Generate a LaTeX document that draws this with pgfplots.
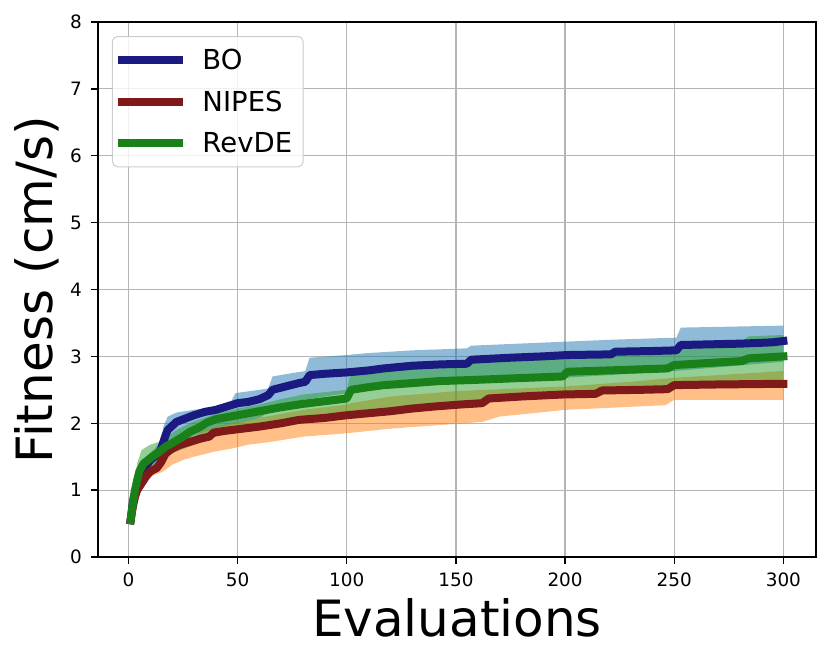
\documentclass[border=0pt]{standalone}
\usepackage{pgfplots}
\pgfplotsset{compat=1.18}
\usepackage{pgfplotstable}
\usepackage{fontspec}
\setmainfont{DejaVu Sans}
\definecolor{c0}{HTML}{1F77B4}
\definecolor{c1}{HTML}{FF7F0E}
\definecolor{c2}{HTML}{2CA02C}
\definecolor{lBO}{RGB}{26,26,128}
\definecolor{lNI}{RGB}{128,26,26}
\definecolor{lRE}{RGB}{26,128,26}
\definecolor{gridc}{RGB}{180,180,180}
\definecolor{legc}{RGB}{204,204,204}

\pgfplotstableread{
x y
1 0.55
2 0.82
3 0.97
4 1.07
5 1.17
6 1.25
8 1.36
10 1.45
12 1.50
14 1.56
15 1.62
16 1.72
17 1.82
18 1.90
20 1.96
22 2.02
26 2.07
30 2.12
35 2.17
40 2.20
45 2.25
50 2.30
55 2.32
60 2.36
64 2.42
66 2.50
72 2.55
78 2.60
81 2.62
83 2.72
90 2.74
100 2.76
110 2.79
117 2.82
130 2.86
143 2.88
155 2.89
157 2.95
175 2.98
190 3.00
201 3.02
221 3.03
223 3.07
240 3.08
251 3.09
253 3.17
280 3.19
295 3.21
300 3.23
}\BOmean

% BO band: upper edge forward, lower edge backward
\pgfplotstableread{
x y
1 0.60
3 1.05
5 1.35
8 1.50
12 1.62
15 1.75
16 1.95
18 2.10
22 2.16
30 2.20
40 2.25
47 2.32
49 2.45
60 2.50
64 2.52
66 2.70
75 2.75
81 2.78
83 2.98
100 3.02
110 3.05
130 3.09
155 3.12
157 3.16
200 3.22
222 3.25
251 3.28
253 3.43
300 3.46
300 2.92
250 2.78
200 2.68
160 2.62
130 2.57
102 2.50
100 2.45
80 2.35
66 2.20
60 2.08
50 2.00
40 1.93
30 1.82
20 1.62
15 1.45
10 1.30
5 1.10
3 0.90
1 0.50
}\BOband

\pgfplotstableread{
x y
1 0.55
2 0.75
3 0.90
4 1.00
6 1.10
8 1.20
10 1.28
13 1.33
15 1.42
17 1.55
20 1.62
23 1.67
28 1.72
33 1.77
37 1.80
39 1.86
45 1.89
50 1.91
60 1.95
70 2.00
78 2.05
90 2.08
100 2.12
110 2.15
120 2.18
130 2.22
140 2.25
152 2.28
162 2.30
165 2.37
180 2.40
199 2.43
214 2.44
217 2.49
235 2.50
247 2.51
250 2.57
270 2.58
300 2.59
}\NImean

\pgfplotstableread{
x y
1 0.60
3 1.05
5 1.20
8 1.32
12 1.40
16 1.55
20 1.62
25 1.70
30 1.80
35 1.90
40 1.95
50 2.02
60 2.08
70 2.14
80 2.20
100 2.28
102 2.30
120 2.40
150 2.48
200 2.55
230 2.62
250 2.68
300 2.78
300 2.35
250 2.35
246 2.27
200 2.20
170 2.10
162 2.02
150 1.99
120 1.92
100 1.85
80 1.80
65 1.72
55 1.68
47 1.62
40 1.58
30 1.50
25 1.45
20 1.38
16 1.28
10 1.20
6 1.08
3 0.90
1 0.50
}\NIband

\pgfplotstableread{
x y
1 0.55
2 0.80
3 1.00
4 1.15
5 1.28
7 1.40
9 1.45
11 1.50
14 1.57
17 1.65
21 1.72
25 1.80
28 1.87
32 1.93
36 2.01
40 2.06
50 2.12
60 2.18
70 2.24
80 2.29
90 2.33
100 2.37
102 2.50
110 2.54
117 2.57
130 2.60
142 2.63
160 2.65
175 2.67
199 2.70
201 2.77
220 2.79
247 2.82
250 2.87
265 2.90
281 2.93
284 2.97
300 3.00
}\REmean

\pgfplotstableread{
x y
1 0.60
2 1.00
4 1.40
6 1.60
10 1.68
14 1.72
18 1.80
22 1.90
30 2.03
40 2.14
50 2.22
60 2.28
70 2.36
80 2.43
100 2.50
102 2.78
117 2.82
143 2.88
157 2.95
201 3.02
222 3.06
251 3.09
253 3.15
280 3.20
284 3.30
300 3.32
300 2.56
250 2.52
200 2.40
165 2.33
160 2.25
130 2.18
100 2.08
70 1.97
50 1.88
40 1.80
30 1.68
20 1.55
16 1.40
12 1.25
8 1.15
5 1.00
3 0.85
1 0.50
}\REband

\begin{document}
\begin{tikzpicture}
\begin{axis}[
  at={(0,0)}, anchor=south west,
  scale only axis, width=718bp, height=535bp,
  xmin=-13.95, xmax=314.95, ymin=0, ymax=8,
  xtick={0,50,...,300}, ytick={0,1,...,8},
  grid=major,
  major grid style={gridc, line width=1.2bp},
  axis line style={black, line width=1.4bp},
  tick style={black, line width=1.4bp},
  tick align=outside, major tick length=7bp,
  xtick pos=bottom, ytick pos=left,
  /pgf/number format/assume math mode=true,
  tick label style={font=\fontsize{18.4bp}{22bp}\selectfont},
  xticklabel style={inner sep=0pt, anchor=north, yshift=-9bp},
  yticklabel style={inner sep=0pt, anchor=east, xshift=-9bp},
  every axis x label/.style={at={(axis description cs:0.5,-0.1495)}, anchor=base},
  every axis y label/.style={at={(axis description cs:-0.0627,0.5)}, anchor=base, rotate=90},
  label style={font=\fontsize{50bp}{56bp}\selectfont},
  xlabel={Evaluations}, ylabel={Fitness (cm/s)},
  legend style={at={(0,1)}, anchor=north west, xshift=14bp, yshift=-14bp,
    draw=legc, line width=1bp, rounded corners=5bp, fill=white, fill opacity=0.8, text opacity=1,
    inner xsep=2bp, inner ysep=11bp, row sep=15.5bp, column sep=13bp,
    font=\fontsize{27.5bp}{30bp}\selectfont},
  legend cell align=left,
  legend image code/.code={\draw[#1, line width=8bp, line cap=butt] (0bp,0bp) -- (65bp,0bp);},
]
% bands
\addplot[fill=c0, fill opacity=0.5, draw=none, forget plot] table {\BOband};
\addplot[fill=c1, fill opacity=0.5, draw=none, forget plot] table {\NIband};
\addplot[fill=c2, fill opacity=0.5, draw=none, forget plot] table {\REband};
% means
\addplot[lBO, line width=8bp, line cap=rect, line join=round] table {\BOmean};
\addlegendentry{BO}
\addplot[lNI, line width=8bp, line cap=rect, line join=round] table {\NImean};
\addlegendentry{NIPES}
\addplot[lRE, line width=8bp, line cap=rect, line join=round] table {\REmean};
\addlegendentry{RevDE\hspace*{7bp}}
\end{axis}
\path (-98bp,-105bp) rectangle (733bp,557bp);
\end{tikzpicture}
\end{document}
